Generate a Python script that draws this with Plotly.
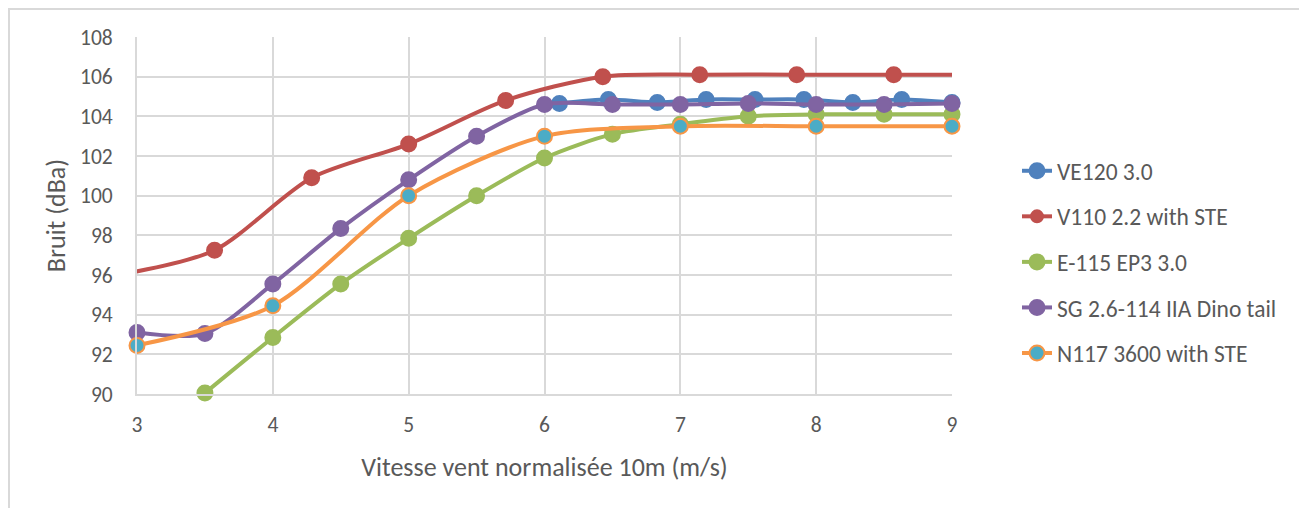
import plotly.graph_objects as go

# ---- data ----
ve120_x = [6.11, 6.47, 6.83, 7.19, 7.55, 7.91, 8.27, 8.63, 9.0]
ve120_y = [104.65, 104.85, 104.7, 104.85, 104.85, 104.85, 104.7, 104.85, 104.7]

v110_x = [2.857, 3.571, 4.286, 5.0, 5.714, 6.429, 7.143, 7.857, 8.571, 9.286]
v110_y = [96.0, 97.25, 100.9, 102.6, 104.8, 106.0, 106.1, 106.1, 106.1, 106.1]

e115_x = [3.5, 4.0, 4.5, 5.0, 5.5, 6.0, 6.5, 7.0, 7.5, 8.0, 8.5, 9.0]
e115_y = [90.05, 92.85, 95.55, 97.85, 100.0, 101.9, 103.1, 103.6, 104.0, 104.1, 104.1, 104.1]

sg_x = [3.0, 3.5, 4.0, 4.5, 5.0, 5.5, 6.0, 6.5, 7.0, 7.5, 8.0, 8.5, 9.0]
sg_y = [93.1, 93.05, 95.55, 98.35, 100.8, 103.0, 104.6, 104.6, 104.6, 104.65, 104.6, 104.6, 104.65]

n117_x = [3.0, 4.0, 5.0, 6.0, 7.0, 8.0, 9.0]
n117_y = [92.45, 94.45, 100.0, 103.0, 103.5, 103.5, 103.5]

x_range = [3, 9]
y_range = [90, 108]

FONT = "Calibri, Carlito, Lato, sans-serif"
TXT = "#595959"
GRID = "#D9D9D9"
MS = 15

def sizes(xs):
    return [MS if x_range[0] <= x <= x_range[1] else 0 for x in xs]

series = [
    ("VE120 3.0", ve120_x, ve120_y, "#4F81BD", "#4F81BD", "#4F81BD"),
    ("V110 2.2 with STE", v110_x, v110_y, "#C0504D", "#C0504D", "#C0504D"),
    ("E-115 EP3 3.0", e115_x, e115_y, "#9BBB59", "#9BBB59", "#9BBB59"),
    ("SG 2.6-114 IIA Dino tail", sg_x, sg_y, "#8064A2", "#8064A2", "#8064A2"),
    ("N117 3600 with STE", n117_x, n117_y, "#F79646", "#4BACC6", "#F79646"),
]

fig = go.Figure()
for name, xs, ys, lc, mfill, mline in series:
    fig.add_trace(go.Scatter(
        x=xs, y=ys, name=name, mode="lines+markers",
        line=dict(color=lc, width=4, shape="spline", smoothing=0.8),
        marker=dict(size=sizes(xs), color=mfill, opacity=1,
                    line=dict(color=mline, width=2)),
        cliponaxis=False, legendgroup=name,
    ))

L, T, W, H = 129, 29, 815, 357
FW, FH = 1307, 508

fig.update_xaxes(
    range=x_range, dtick=1, showgrid=True, gridcolor=GRID, gridwidth=2,
    zeroline=False, showline=True, linecolor=GRID, linewidth=2,
    ticks="", ticklabelstandoff=10,
    tickfont=dict(family=FONT, size=21.5, color=TXT),
    title=dict(text="Vitesse vent normalisée 10m (m/s)",
               font=dict(family=FONT, size=26, color=TXT), standoff=21),
)
fig.update_yaxes(
    range=y_range, dtick=2, showgrid=True, gridcolor=GRID, gridwidth=2,
    zeroline=False, showline=True, linecolor=GRID, linewidth=2,
    ticks="", ticklabelstandoff=18,
    tickfont=dict(family=FONT, size=21.5, color=TXT),
    title=dict(text="Bruit (dBa)", font=dict(family=FONT, size=26, color=TXT), standoff=7),
)

fig.update_layout(
    width=FW, height=FH,
    margin=dict(l=L, r=FW - L - W, t=T, b=FH - T - H, autoexpand=False),
    paper_bgcolor="white", plot_bgcolor="white",
    font=dict(family=FONT, color=TXT),
    showlegend=True,
    legend=dict(x=(1009 - L) / W, y=(T + H - 141) / H, xanchor="left", yanchor="top",
                font=dict(family=FONT, size=23.5, color=TXT),
                tracegroupgap=12, bgcolor="rgba(0,0,0,0)"),
    shapes=[dict(type="rect", xref="paper", yref="paper",
                 x0=(1 - L) / W, x1=(1298 - L) / W,
                 y0=(T + H - 530) / H, y1=(T + H - 1) / H,
                 line=dict(color=GRID, width=2), fillcolor="rgba(0,0,0,0)", layer="below")],
)

fig.write_html("out.html")
